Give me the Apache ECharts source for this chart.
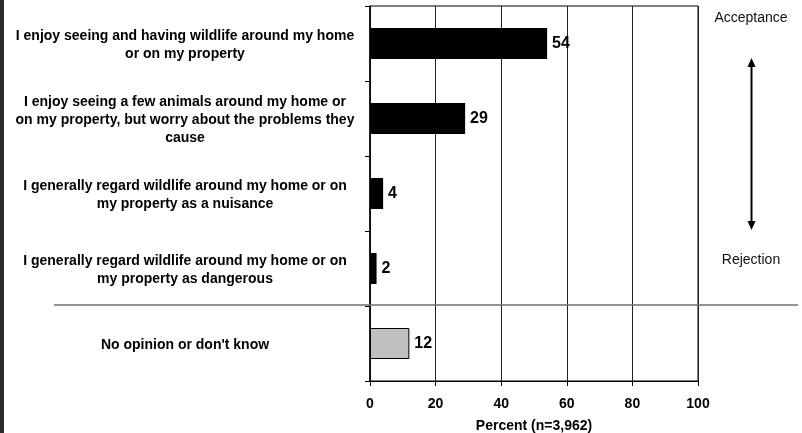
<!DOCTYPE html>
<html>
<head>
<meta charset="utf-8">
<script src="https://cdn.jsdelivr.net/npm/echarts@6/dist/echarts.min.js"></script>
<style>
  html, body { margin: 0; padding: 0; background: #fff; }
  #chart { width: 802px; height: 433px; }
</style>
</head>
<body>
<div id="chart"></div>
<script>
// Attitudes toward wildlife around the home (percent of respondents)
const categories = [
  "I enjoy seeing and having wildlife around my home\nor on my property",
  "I enjoy seeing a few animals around my home or\non my property, but worry about the problems they\ncause",
  "I generally regard wildlife around my home or on\nmy property as a nuisance",
  "I generally regard wildlife around my home or on\nmy property as dangerous",
  "No opinion or don't know"
];
const percents = [54, 29, 4, 2, 12];
const barColors = ["#000000", "#000000", "#000000", "#000000", "#c0c0c0"];
const xTicks = [0, 20, 40, 60, 80, 100];
const xAxisTitle = "Percent (n=3,962)";
const scaleTop = "Acceptance";
const scaleBottom = "Rejection";

const FONT = "'Liberation Sans', Arial, Helvetica, sans-serif";

const chart = echarts.init(document.getElementById('chart'), null, { renderer: 'canvas' });

chart.setOption({
  animation: false,
  backgroundColor: '#ffffff',
  grid: {
    left: 370, right: 104, top: 6, bottom: 52,
    outerBoundsMode: 'none',
    containLabel: false,
    show: true, borderColor: '#000', borderWidth: 1, backgroundColor: 'transparent'
  },
  xAxis: {
    type: 'value',
    min: xTicks[0],
    max: xTicks[xTicks.length - 1],
    interval: xTicks[1] - xTicks[0],
    name: xAxisTitle,
    nameLocation: 'middle',
    nameGap: 38,
    nameTextStyle: { fontFamily: FONT, fontSize: 14, fontWeight: 'bold', color: '#000' },
    axisLine: { show: true, lineStyle: { color: '#000', width: 1 } },
    axisTick: { show: true, length: 5, lineStyle: { color: '#000' } },
    axisLabel: { fontFamily: FONT, fontSize: 14, fontWeight: 'bold', color: '#000', margin: 16 },
    splitLine: { show: true, lineStyle: { color: '#222', width: 1 } }
  },
  yAxis: {
    type: 'category',
    inverse: true,
    data: categories,
    axisLine: { show: true, lineStyle: { color: '#000', width: 1.5 } },
    axisTick: { show: true, length: 5, lineStyle: { color: '#000' } },
    axisLabel: {
      margin: 12,
      align: 'right',
      padding: [4, 0, 0, 0],
      formatter: function (v) {
        return v.split('\n').map(function (s) { return '{a|' + s + '}'; }).join('\n');
      },
      rich: {
        a: {
          width: 346, align: 'center', lineHeight: 18,
          fontFamily: FONT, fontSize: 14, fontWeight: 'bold', color: '#000'
        }
      }
    },
    splitLine: { show: false }
  },
  series: [{
    type: 'bar',
    barWidth: 31,
    data: percents.map(function (v, i) {
      return {
        value: v,
        itemStyle: { color: barColors[i], borderColor: '#000', borderWidth: i === 4 ? 1 : 0 }
      };
    }),
    label: {
      show: true, position: 'right', distance: 5,
      fontFamily: FONT, fontSize: 16, fontWeight: 'bold', color: '#000'
    }
  }],
  graphic: [
    // dark strip along the left edge
    { type: 'rect', left: 0, top: 0, shape: { width: 4, height: 433 }, style: { fill: '#2b2b2b' }, z: 10 },
    // separator between attitude items and the no-opinion row
    { type: 'line', shape: { x1: 54, y1: 305, x2: 798, y2: 305 }, style: { stroke: '#6e6e6e', lineWidth: 1.5 }, z: 10 },
    // acceptance / rejection scale
    { type: 'text', x: 751, y: 18, style: { text: scaleTop, fontFamily: FONT, fontSize: 14, fill: '#111', align: 'center', verticalAlign: 'middle' } },
    { type: 'text', x: 751, y: 260, style: { text: scaleBottom, fontFamily: FONT, fontSize: 14, fill: '#111', align: 'center', verticalAlign: 'middle' } },
    { type: 'line', shape: { x1: 751.5, y1: 64, x2: 751.5, y2: 224 }, style: { stroke: '#000', lineWidth: 2 } },
    { type: 'polygon', shape: { points: [[751.5, 58], [747.5, 67], [755.5, 67]] }, style: { fill: '#000' } },
    { type: 'polygon', shape: { points: [[751.5, 230], [747.5, 221], [755.5, 221]] }, style: { fill: '#000' } }
  ]
});
</script>
</body>
</html>
